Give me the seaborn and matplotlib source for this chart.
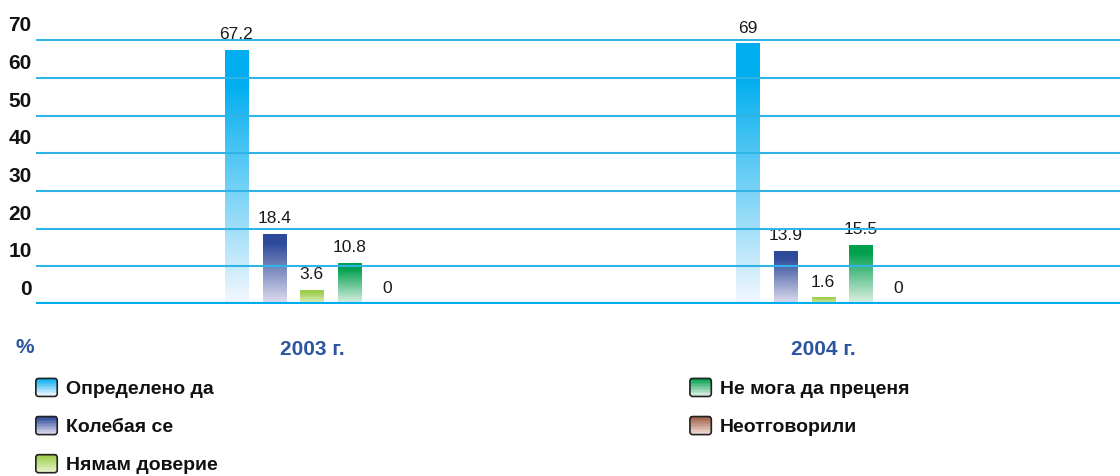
import numpy as np
import pandas as pd
import seaborn as sns
import matplotlib.pyplot as plt
from matplotlib.colors import LinearSegmentedColormap, to_rgb
from matplotlib.patches import Rectangle, FancyBboxPatch
from matplotlib.legend_handler import HandlerBase

# Data
years = ["2003 г.", "2004 г."]
categories = ["Определено да", "Колебая се", "Нямам доверие", "Не мога да преценя", "Неотговорили"]
definitely_yes = [67.2, 69]
hesitating = [18.4, 13.9]
no_trust = [3.6, 1.6]
cannot_judge = [10.8, 15.5]
no_answer = [0, 0]
y_ticks = [0, 10, 20, 30, 40, 50, 60, 70]

top_colors = ["#00aeef", "#2e4a9a", "#9acd4a", "#00a04e", "#a0604a"]
bottom_colors = ["#f4f8fe", "#e2e0f0", "#e8f3c8", "#e2f1e6", "#f2e0d8"]

values = [definitely_yes, hesitating, no_trust, cannot_judge, no_answer]
df = pd.DataFrame({
    "year": np.repeat(years, len(categories)).tolist(),
    "cat": categories * len(years),
    "val": [values[c][y] for y in range(len(years)) for c in range(len(categories))],
})

sns.set_style("white")
plt.rcParams["font.family"] = ["Liberation Sans Narrow", "Liberation Sans", "DejaVu Sans"]
plt.rcParams["text.color"] = "#111111"

fig = plt.figure(figsize=(11.2, 4.76), dpi=100)
ax = fig.add_axes([0.032, 0.361, 0.968, 0.602])

sns.barplot(data=df, x="year", y="val", hue="cat", hue_order=categories,
            order=years, palette=top_colors, width=0.369, gap=0.39,
            legend=False, ax=ax)

# gradient fill for every bar
for i, cont in enumerate(ax.containers):
    cmap = LinearSegmentedColormap.from_list("g", [bottom_colors[i], top_colors[i]])
    for bar in cont:
        x0, y0 = bar.get_x(), bar.get_y()
        w, h = bar.get_width(), bar.get_height()
        bar.set_facecolor("none")
        bar.set_edgecolor("none")
        if h <= 0:
            continue
        grad = np.linspace(0, 1, 256).reshape(-1, 1)
        grad = np.clip(grad * 1.15, 0, 1)
        ax.imshow(grad, cmap=cmap, origin="lower", aspect="auto",
                  extent=[x0, x0 + w, y0, y0 + h], zorder=2, interpolation="bicubic")
    ax.bar_label(cont, labels=[f"{v:g}" for v in cont.datavalues], padding=6,
                 fontsize=12.5, color="#1a1a1a")

ax.set_xlim(-0.54, 1.581)
ax.set_ylim(0, 76)

for v in y_ticks[1:]:
    ax.axhline(v, color="#30b4e8", lw=1.5, zorder=3)
ax.axhline(0, color="#00aeef", lw=3, zorder=4)

ax.set_yticks([v + 4.4 for v in y_ticks])
ax.set_yticklabels([str(v) for v in y_ticks], fontsize=15, fontweight="bold", color="#111111")
ax.tick_params(axis="y", length=0, pad=3)
ax.tick_params(axis="x", length=0, pad=26, labelsize=15, labelcolor="#2b55a0")
for t in ax.get_xticklabels():
    t.set_fontweight("bold")
ax.set_xlabel("")
ax.set_ylabel("")
sns.despine(ax=ax, left=True, bottom=True)

fig.text(0.014, 0.271, "%", fontsize=15, fontweight="bold", color="#2b55a0", va="center")


class GradientHandler(HandlerBase):
    def __init__(self, top, bottom):
        super().__init__()
        self.top = top
        self.bottom = bottom

    def create_artists(self, legend, orig_handle, xdescent, ydescent, width, height, fontsize, trans):
        arts = []
        n = 12
        c0 = np.array(to_rgb(self.bottom))
        c1 = np.array(to_rgb(self.top))
        for k in range(n):
            col = c0 + (c1 - c0) * (k / (n - 1))
            arts.append(Rectangle((-xdescent, -ydescent + height * k / n), width, height / n + 0.3,
                                  facecolor=col, edgecolor="none", transform=trans))
        arts.append(FancyBboxPatch((-xdescent, -ydescent), width, height,
                                   boxstyle="round,pad=0,rounding_size=2",
                                   facecolor="none", edgecolor="#222222", lw=1.2, transform=trans))
        return arts


handles = [Rectangle((0, 0), 1, 1) for _ in categories]
hmap = {h: GradientHandler(top_colors[i], bottom_colors[i]) for i, h in enumerate(handles)}
leg_kw = dict(frameon=False, loc="upper left", borderpad=0, borderaxespad=0,
              handlelength=1.1, handleheight=1.05, handletextpad=0.45, labelspacing=0.95,
              prop={"size": 14, "weight": "bold"}, handler_map=hmap, labelcolor="#111111")
leg1 = fig.legend(handles[:3], categories[:3], bbox_to_anchor=(0.032, 0.205), **leg_kw)
leg2 = fig.legend(handles[3:], categories[3:], bbox_to_anchor=(0.616, 0.205), **leg_kw)

fig.savefig("out.png", dpi=100)
